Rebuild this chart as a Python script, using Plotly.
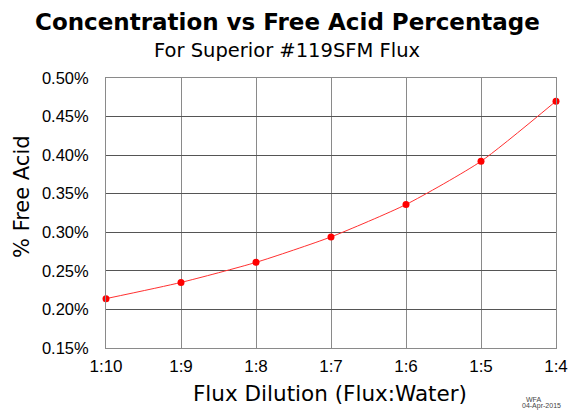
import plotly.graph_objects as go

categories = ["1:10", "1:9", "1:8", "1:7", "1:6", "1:5", "1:4"]
free_acid = [0.214, 0.235, 0.261, 0.294, 0.336, 0.392, 0.470]
y_ticks = [0.15, 0.20, 0.25, 0.30, 0.35, 0.40, 0.45, 0.50]
y_tick_labels = ["%.2f%%" % v for v in y_ticks]

xs = list(range(len(categories)))
FONT = "Liberation Sans, Arial, sans-serif"
WIDE = "DejaVu Sans, Verdana, sans-serif"

W, H = 571, 412
L, R, T, B = 106, 15, 78, 64
pw, ph = W - L - R, H - T - B


def px(x):
    return (x - L) / pw


def py(y):
    return (H - B - y) / ph


fig = go.Figure()
fig.add_trace(go.Scatter(
    x=xs, y=free_acid, mode="lines+markers",
    line=dict(color="#ff3030", width=1, shape="spline", smoothing=0.6),
    marker=dict(color="#ff0000", size=7),
    cliponaxis=False, showlegend=False, hoverinfo="skip",
))

fig.update_layout(
    width=W, height=H, autosize=False,
    margin=dict(l=L, r=R, t=T, b=B, autoexpand=False),
    paper_bgcolor="white", plot_bgcolor="white",
    font=dict(family=FONT, color="black"),
    xaxis=dict(
        range=[0, 6], tickvals=xs, ticktext=categories, automargin=False,
        showgrid=True, gridcolor="#8a8a8a", gridwidth=1,
        showline=True, linecolor="#8a8a8a", mirror=True,
        zeroline=False, ticks="", tickfont=dict(size=17, family=FONT),
        ticklabelstandoff=3,
    ),
    yaxis=dict(
        range=[0.15, 0.50], tickvals=y_ticks, ticktext=y_tick_labels, automargin=False,
        showgrid=True, gridcolor="#555555", gridwidth=1,
        showline=True, linecolor="#8a8a8a", mirror=True,
        zeroline=False, ticks="", tickfont=dict(size=16.5, family=FONT),
        ticklabelstandoff=13,
    ),
    annotations=[
        dict(text="<b>Concentration vs Free Acid Percentage</b>", x=px(287), y=py(22),
             xref="paper", yref="paper", showarrow=False, xanchor="center", yanchor="middle",
             font=dict(size=23, family=WIDE)),
        dict(text="For Superior #119SFM Flux", x=px(287), y=py(51), xref="paper", yref="paper",
             showarrow=False, xanchor="center", yanchor="middle", font=dict(size=19.5, family=WIDE)),
        dict(text="Flux Dilution (Flux:Water)", x=px(330), y=py(393), xref="paper", yref="paper",
             showarrow=False, xanchor="center", yanchor="middle", font=dict(size=21.5, family=WIDE)),
        dict(text="% Free Acid", x=px(22), y=py(197), xref="paper", yref="paper", textangle=-90,
             showarrow=False, xanchor="center", yanchor="middle", font=dict(size=21, family=WIDE)),
        dict(text="WFA", x=px(533), y=py(399), xref="paper", yref="paper",
             showarrow=False, xanchor="center", yanchor="middle", font=dict(size=7, family=FONT, color="#444")),
        dict(text="04-Apr-2015", x=px(541), y=py(406), xref="paper", yref="paper",
             showarrow=False, xanchor="center", yanchor="middle", font=dict(size=7, family=FONT, color="#444")),
    ],
)

fig.write_html(
    "out.html",
    config={"responsive": False, "displayModeBar": False},
    post_script="document.body.style.margin='0';document.body.style.padding='0';document.body.style.overflow='hidden';",
)
